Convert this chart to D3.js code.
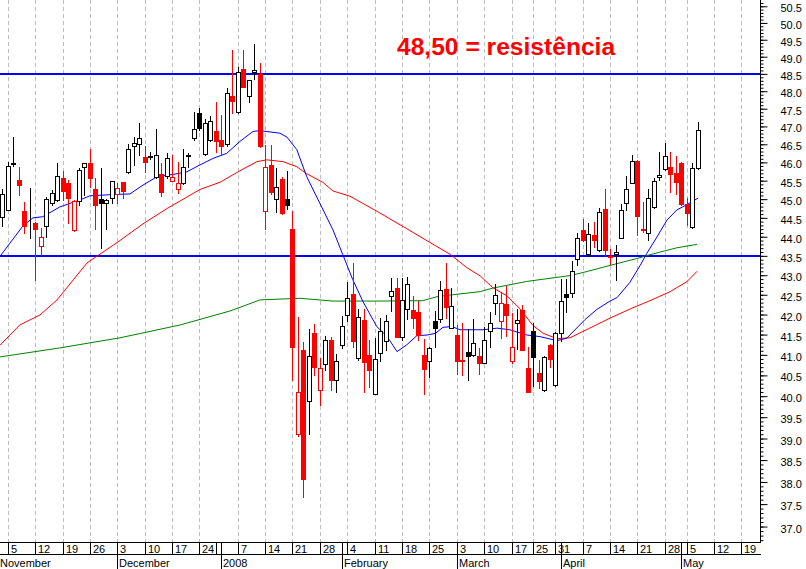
<!DOCTYPE html>
<html><head><meta charset="utf-8">
<script src="https://cdn.jsdelivr.net/npm/d3@7"></script>
<style>body{margin:0;background:#fff}svg{display:block}</style>
</head><body><svg id="c" width="806" height="569"></svg>
<script>
// ---- data ----
const opens  = [44.52,44.72,45.95,45.52,44.69,44.30,44.36,43.76,44.29,44.89,44.98,45.57,45.45,44.17,44.94,45.88,45.98,45.27,45.00,44.91,45.02,45.14,45.47,45.75,46.46,46.50,46.16,46.14,45.61,45.69,45.63,45.50,45.27,45.43,46.17,46.67,47.38,46.24,46.63,46.88,46.61,46.51,47.85,47.41,48.65,47.85,48.54,48.49,44.69,45.92,45.00,45.55,45.00,44.21,39.10,41.12,39.89,41.55,40.14,40.77,41.37,40.39,41.24,41.99,42.52,40.93,41.86,40.99,40.04,41.05,41.35,42.48,42.66,41.45,42.13,42.11,42.07,40.99,40.86,41.84,41.88,42.65,41.66,41.49,40.87,41.08,40.99,40.96,40.81,41.59,42.30,41.84,42.27,40.85,41.78,42.11,40.68,41.59,40.56,40.15,41.24,40.26,41.55,42.52,42.55,43.42,44.18,43.55,44.04,43.64,44.74,43.50,43.56,43.98,44.89,45.45,46.04,44.21,44.10,44.79,45.59,45.81,45.88,45.72,45.99,44.87,44.27,45.84];
const highs  = [45.28,46.00,46.70,45.86,44.93,45.29,44.40,44.22,45.05,45.25,45.99,45.77,45.53,44.98,45.84,45.99,46.37,45.57,45.84,45.00,45.49,45.45,45.47,46.50,46.71,47.09,46.44,46.28,46.93,45.98,46.25,46.20,46.02,46.37,46.25,47.40,47.52,47.20,47.30,47.70,47.33,48.09,49.19,48.71,49.19,48.33,49.36,48.81,46.49,46.49,45.84,45.59,45.76,44.68,41.93,41.32,41.65,41.76,40.92,41.47,41.45,41.02,41.96,42.83,43.32,42.15,42.15,41.37,41.41,41.91,42.00,42.92,42.94,42.92,42.96,42.47,42.33,41.38,41.20,42.08,42.85,43.31,42.68,41.74,41.78,41.63,41.88,41.18,41.70,42.07,42.77,42.58,42.72,42.05,42.13,42.24,41.19,41.78,40.87,40.97,41.26,41.57,42.90,42.90,43.36,44.10,44.47,44.35,44.38,44.76,45.27,43.69,43.78,44.87,45.63,46.21,46.06,44.92,45.27,45.57,46.30,46.53,46.30,46.18,46.00,45.02,45.99,47.12];
const lows   = [44.28,44.70,45.90,45.12,44.11,43.96,42.88,43.52,44.00,44.85,44.95,44.98,44.35,44.15,44.84,45.10,45.34,44.20,43.70,44.20,44.90,44.89,45.02,45.72,45.93,46.21,45.75,46.10,45.58,45.08,45.57,45.48,45.16,45.40,45.88,46.61,46.90,46.20,46.60,46.30,46.22,46.45,47.39,47.39,48.13,47.68,48.35,46.42,44.20,45.15,44.66,44.60,44.73,40.39,39.05,37.67,39.10,40.51,39.79,40.63,40.14,40.11,41.18,41.85,41.19,40.87,40.10,40.21,40.04,40.86,41.12,42.08,41.45,41.37,41.88,41.66,41.37,40.06,40.45,41.19,41.82,41.91,41.66,40.53,40.51,40.40,40.96,40.53,40.81,41.19,42.01,41.41,41.46,40.80,41.14,41.13,40.11,40.24,40.19,40.13,40.70,40.24,41.34,42.07,42.45,43.27,43.89,43.49,43.74,43.62,43.49,43.30,42.88,43.96,44.70,45.44,44.04,44.12,43.92,44.75,45.53,45.80,45.20,45.15,44.85,44.31,44.23,45.83];
const closes = [45.14,45.90,45.99,45.37,44.28,44.32,44.20,43.99,45.00,45.17,45.63,45.22,45.02,44.94,45.79,45.99,45.57,44.84,44.90,44.98,45.49,45.30,45.23,46.37,46.53,46.68,46.02,46.17,46.21,45.20,46.12,45.59,45.43,45.88,46.20,46.93,46.95,47.10,47.16,46.60,46.44,47.94,47.73,48.54,48.13,48.33,48.62,46.44,45.86,45.20,45.32,44.64,44.85,41.19,40.10,38.06,40.97,40.71,40.69,41.37,40.40,40.85,41.72,42.43,41.33,41.93,40.83,40.63,40.91,41.60,41.84,42.59,41.45,42.37,42.77,41.91,41.49,40.65,41.16,41.66,42.62,42.20,42.22,40.86,40.85,40.98,41.28,40.80,41.37,41.78,42.50,42.30,41.99,41.19,41.86,41.13,40.11,40.94,40.37,40.95,40.89,41.55,42.33,42.45,43.10,43.96,43.92,44.06,43.92,44.65,43.64,43.47,43.60,44.70,45.27,46.04,44.55,44.17,45.02,45.49,45.65,46.18,45.68,45.47,44.87,44.62,45.84,46.90];
// candle colour: r = close below previous close, k = above
const candleColors = ("kkkrrkrrkk" + "krrrkkrrkk" + "krrkkkrkkr" + "krrkkkkkkr" + "rkrkrkkrrr" +
                      "krkrrrkrrk" + "rkkkrkrrkk" + "kkrkkrrrkk" + "krkrrkkrkk" + "krrrkrrkrk" +
                      "rkkkkkrkrk" + "rrkkkkrrkk" + "kkrrrrkk").split("");

// moving averages: [trading-day index, value]
const maFast = [[-0.5,43.49],[3.7,44.29],[5.5,44.50],[7.3,44.53],[10.4,44.79],[14.1,44.98],[15.9,45.09],[20.9,45.13],[23.2,45.14],[25.6,45.38],[28.2,45.61],[31.1,45.67],[33.6,45.74],[36,45.93],[38.4,46.11],[40.9,46.25],[43.3,46.58],[45.7,46.86],[47,46.88],[50.6,46.81],[51.9,46.70],[53.7,46.35],[55.5,45.61],[57.9,44.89],[60.3,44.18],[62.1,43.53],[63.9,42.89],[65.8,42.32],[68.3,41.70],[70.2,41.45],[72,41.08],[73.8,41.25],[75.6,41.47],[77.5,41.49],[79,41.53],[80.4,41.68],[82,41.70],[83.5,41.62],[87.7,41.62],[90.3,41.66],[92.6,41.62],[95.7,41.49],[98.1,41.45],[101.2,41.35],[103,41.41],[106.3,41.87],[108.5,42.13],[110.9,42.34],[112.2,42.43],[114.5,42.81],[116.4,43.25],[117.6,43.56],[119.5,44.00],[121.3,44.44],[123.1,44.71],[124.9,44.85],[127,45.03]];
const maMid = [[-0.5,41.24],[3.1,41.74],[6.8,41.99],[9.9,42.37],[15.4,43.32],[20.9,43.85],[25.6,44.34],[30,44.75],[36,45.26],[39.7,45.46],[43.3,45.77],[46.4,46.02],[48.2,46.07],[51.2,46.02],[53.7,45.88],[55.5,45.69],[58.5,45.45],[60.3,45.22],[63.4,45.08],[68.5,44.66],[73.8,44.21],[78,43.85],[81.7,43.54],[84.8,43.19],[87.2,42.98],[89.5,42.68],[92.1,42.47],[94.5,42.14],[96.8,41.73],[98.7,41.53],[101.2,41.40],[103.6,41.42],[107.2,41.66],[110.9,41.91],[114.9,42.16],[118.2,42.35],[121.9,42.58],[125,42.84],[126.8,43.10]];
const maSlow = [[-0.5,40.95],[10.4,41.17],[21.4,41.42],[32.4,41.74],[41.5,42.09],[47,42.37],[50.6,42.39],[54.3,42.41],[60.3,42.34],[68.9,42.34],[76.7,42.35],[79.3,42.45],[82.2,42.50],[87.2,42.58],[89.5,42.67],[95.7,42.84],[103.6,42.99],[106,43.07],[112.2,43.30],[115.8,43.43],[118.2,43.53],[123.1,43.71],[126.8,43.80]];

const levels = [48.5, 43.5];
const titleText = "48,50 = resistência";

// weekly ticks: [trading-day index, label]
const weekTicks = [[1,"5"],[6,"12"],[11,"19"],[16,"26"],[21,"3"],[26,"10"],[31,"17"],[36,"24"],[39,""],[43,"7"],[48,"14"],[53,"21"],[58,"28"],[63,"4"],[68,"11"],[73,"18"],[78,"25"],[83,"3"],[88,"10"],[93,"17"],[97,"25"],[101,"31"],[106,"7"],[111,"14"],[116,"21"],[121,"28"],[125,"5"],[130,"12"],[135,"19"]];
const monthTicks = [[null,"November"],[21,"December"],[40,"2008"],[62,"February"],[83,"March"],[102,"April"],[124,"May"]];
const yMajor = d3.range(370, 506, 5).map(v => v / 10);
const yMinor = d3.range(367, 507, 1).map(v => v / 10);

// ---- layout ----
const W = 806, H = 569, plotR = 760, plotB = 542, bandMid = 554;
const svg = d3.select("#c");
const x = d3.scaleLinear().domain([0, 127]).range([2.825, 2.825 + 127 * 5.475]);
const y = d3.scaleLog().domain([36.66, 50.69]).range([plotB, 0]);
const font = "'Liberation Sans', Arial, sans-serif";
const px = v => Math.floor(v) + 0.5;

svg.append("defs").append("clipPath").attr("id","clip").append("rect").attr("x",0).attr("y",0).attr("width",plotR).attr("height",plotB);

// grid
svg.append("g").selectAll("line").data(weekTicks.filter(d => d[1] !== "")).join("line")
  .attr("x1", d => px(x(d[0]))).attr("x2", d => px(x(d[0])))
  .attr("y1", 0).attr("y2", plotB)
  .attr("stroke", "#bdbdbd").attr("stroke-dasharray", "4,3");

// resistance / support
svg.append("g").selectAll("rect").data(levels).join("rect")
  .attr("x", 0).attr("width", plotR).attr("y", d => Math.round(y(d)) - 1).attr("height", 2)
  .style("fill", "rgb(0,0,255)");

// moving averages
const line = d3.line().x(d => x(d[0])).y(d => y(d[1]));
const maG = svg.append("g").attr("clip-path","url(#clip)");
[[maSlow,"#008000"],[maMid,"#ff0000"],[maFast,"#0000ff"]].forEach(([d,c]) => {
  maG.append("path").datum(d).attr("d", line).attr("fill","none").attr("stroke", c).attr("stroke-width", 1);
});

// candles
const candles = opens.map((o, i) => ({i, o, h: highs[i], l: lows[i], c: closes[i], col: candleColors[i] === "r" ? "#ff0000" : "#000000"}));
const cg = svg.append("g").selectAll("g").data(candles).join("g");
cg.append("line")
  .attr("x1", d => px(x(d.i))).attr("x2", d => px(x(d.i)))
  .attr("y1", d => Math.round(y(d.h))).attr("y2", d => Math.round(y(d.l)) + 1)
  .attr("stroke", d => d.col);
cg.append("rect")
  .attr("x", d => Math.floor(x(d.i)) - 1.5)
  .attr("y", d => Math.round(y(Math.max(d.o, d.c))) + 0.5)
  .attr("width", 4)
  .attr("height", d => Math.max(0, Math.round(y(Math.min(d.o, d.c))) - Math.round(y(Math.max(d.o, d.c)))))
  .attr("fill", d => d.c < d.o ? d.col : "#ffffff")
  .attr("stroke", d => d.col);

// title
svg.append("text").attr("x", 397).attr("y", 55).text(titleText)
  .attr("font-family", font).attr("font-weight", "bold").attr("font-size", 24.6).attr("fill", "#ff0000");

// y axis
const yAxisG = svg.append("g").attr("transform", `translate(${plotR + 0.5},0)`);
yAxisG.append("g").call(d3.axisRight(y).tickValues(yMinor).tickSize(3).tickFormat(""))
  .call(g => g.select(".domain").remove());
const yMaj = yAxisG.append("g").call(d3.axisRight(y).tickValues(yMajor).tickSize(7).tickPadding(13).tickFormat(d3.format(".1f")));
yMaj.select(".domain").remove();
yMaj.selectAll("text").attr("font-family", font).attr("font-size", 11).attr("fill", "#000").attr("dy", "0.5em");
yAxisG.append("line").attr("x1", 0).attr("x2", 0).attr("y1", 0).attr("y2", plotB).attr("stroke", "#000");

// x axis band
const xg = svg.append("g");
xg.append("line").attr("x1", 0).attr("x2", plotR + 1).attr("y1", plotB + 0.5).attr("y2", plotB + 0.5).attr("stroke", "#000");
xg.append("line").attr("x1", 0).attr("x2", plotR + 1).attr("y1", bandMid + 0.5).attr("y2", bandMid + 0.5).attr("stroke", "#000");
xg.selectAll("line.wk").data(weekTicks).join("line").attr("class","wk")
  .attr("x1", d => px(x(d[0]))).attr("x2", d => px(x(d[0])))
  .attr("y1", plotB).attr("y2", bandMid).attr("stroke", "#000");
xg.selectAll("text.wk").data(weekTicks).join("text").attr("class","wk")
  .attr("x", d => Math.floor(x(d[0])) + 3).attr("y", 552.5).text(d => d[1])
  .attr("font-family", font).attr("font-size", 11).attr("fill", "#000");
xg.selectAll("line.mo").data(monthTicks.filter(d => d[0] !== null)).join("line").attr("class","mo")
  .attr("x1", d => px(x(d[0]))).attr("x2", d => px(x(d[0])))
  .attr("y1", plotB).attr("y2", H).attr("stroke", "#000");
xg.selectAll("text.mo").data(monthTicks).join("text").attr("class","mo")
  .attr("x", d => d[0] === null ? 0 : Math.floor(x(d[0])) + 2).attr("y", 567).text(d => d[1])
  .attr("font-family", font).attr("font-size", 11).attr("fill", "#000");
</script></body></html>
